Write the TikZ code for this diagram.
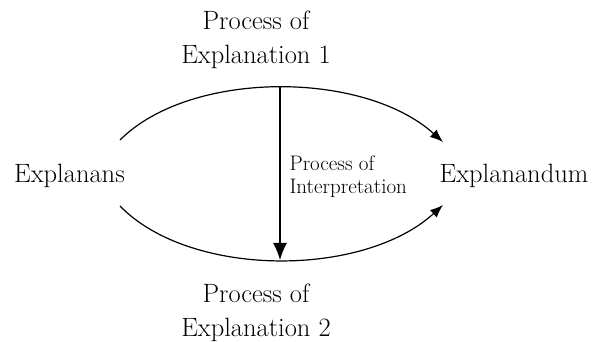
\documentclass[tikz,border=0pt]{standalone}
\usepackage{fontspec}
\usepackage{tikz}
\usetikzlibrary{arrows.meta,positioning}
\tikzset{
  bigtext/.style={font=\fontsize{26.5}{34}\selectfont,inner sep=0pt,align=center},
  smalltext/.style={font=\fontsize{21}{23}\selectfont,inner sep=0pt,align=left},
}

\begin{document}
\begin{tikzpicture}[x=1pt,y=1pt,>={Latex[length=13pt,width=10pt]},line width=1.2pt]
  \useasboundingbox (0,0) rectangle (599,342);
  \node[bigtext,anchor=base] (explanans) at (69.5,159) {Explanans};
  \node[bigtext,anchor=base] (explanandum) at (514,159) {Explanandum};
  \node[bigtext] (proc1) at (256,302) {Process of\\Explanation 1};
  \node[bigtext] (proc2) at (256,29) {Process of\\Explanation 2};
  \coordinate (top) at (280,255);
  \coordinate (bot) at (280,82);
  \coordinate (mid) at (280,165);
  \coordinate (s1) at (120,202);
  \coordinate (e1) at (443,200);
  \coordinate (s2) at (120,136);
  \coordinate (e2) at (443,137);
  \draw[->] (s1) .. controls (190,272) and (363,272) .. (e1);
  \draw[->] (s2) .. controls (190,64) and (363,64) .. (e2);
  \draw[-{Latex[length=17pt,width=14pt]}] (top) -- (bot);
  \node[smalltext,right=9pt of mid] (interp) {Process of\\Interpretation};
\end{tikzpicture}
\end{document}
